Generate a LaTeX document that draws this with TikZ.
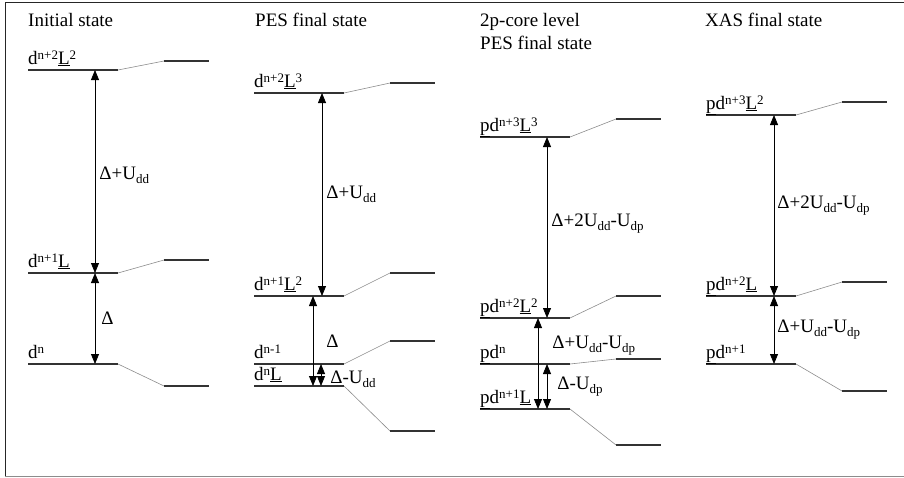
\documentclass[tikz,border=0pt]{standalone}
\usepackage{fontspec}
\setmainfont{Liberation Serif}
\usetikzlibrary{arrows.meta}
\definecolor{levelline}{HTML}{333333}
\definecolor{slopeline}{HTML}{8C8C8C}
\newcommand{\sps}[1]{\raisebox{4.5pt}{\fontsize{13}{13}\selectfont #1}}
\newcommand{\sbs}[1]{\raisebox{-4pt}{\fontsize{13}{13}\selectfont #1}}

\begin{document}
\begin{tikzpicture}[
            x=1pt, y=-1pt,
            font=\fontsize{19}{22}\selectfont,
            level/.style={draw=levelline, line width=1.1pt},
            slope/.style={draw=slopeline, line width=0.6pt},
            lvltext/.style={anchor=base west, inner sep=0pt, yshift=6pt},
            title/.style={anchor=base west, inner sep=0pt, align=left},
            gap/.style={anchor=west, inner sep=0pt, xshift=4pt},
            twoway/.style={{Triangle[length=10pt,width=8pt]}-{Triangle[length=10pt,width=8pt]}, line width=0.8pt, color=black}
        ]
        \useasboundingbox (0,0) rectangle (904,477);
        \draw [line width=1pt, color=black!85] (904,2) -- (5,2) -- (5,476);
        \draw [line width=1pt, color=black!45] (5,476) -- (904,476);

        % energy levels: name / left x / left y / right y
        \foreach \nm/\x/\yl/\yr in {i2/28/70/61, i1/28/273/260, i0/28/364/386,
                                    p3/254/93/83, p2/254/296/273, p1/254/364/341, p0/254/386/431,
                                    c3/480/137/119, c2/480/318/296, c1/480/364/359, c0/480/409/445,
                                    x2/706/115/102, x1/706/296/282, x0/706/364/391} {
            \coordinate (\nm) at (\x,\yl);
            \coordinate (\nm-r) at (\x+136,\yr);
            \draw [level] (\nm) -- ++(90,0) coordinate (\nm-k);
            \draw [slope] (\nm-k) -- (\nm-r);
            \draw [level] (\nm-r) -- ++(45,0);
        }

        % titles
        \node [title] (tinit) at (28,26) {Initial state};
        \node [title] (tpes) at (255,26) {PES final state};
        \node [title] (tcore) at (480,26) {2p-core level};
        \node [title] (tcore2) at (480,49) {PES final state};
        \node [title] (txas) at (705,26) {XAS final state};

        % initial state
        \node [lvltext] (li2) at (i2) {d\sps{n+2}\underline{L}\sps{2}};
        \node [lvltext] (li1) at (i1) {d\sps{n+1}\underline{L}};
        \node [lvltext] (li0) at (i0) {d\sps{n}};
        \draw [twoway] ([xshift=67pt]i2) -- node[gap, pos=0.52]{Δ+U\sbs{dd}} ([xshift=67pt]i1);
        \draw [twoway] ([xshift=67pt]i1) -- node[gap, xshift=2pt]{Δ} ([xshift=67pt]i0);

        % PES final state
        \node [lvltext] (lp3) at (p3) {d\sps{n+2}\underline{L}\sps{3}};
        \node [lvltext] (lp2) at (p2) {d\sps{n+1}\underline{L}\sps{2}};
        \node [lvltext] (lp1) at (p1) {d\sps{n-1}};
        \node [lvltext] (lp0) at (p0) {d\sps{n}\underline{L}};
        \draw [twoway] ([xshift=68pt]p3) -- node[gap]{Δ+U\sbs{dd}} ([xshift=68pt]p2);
        \draw [twoway] ([xshift=59pt]p2) -- node[gap, xshift=9pt]{Δ} ([xshift=59pt]p0);
        \draw [twoway] ([xshift=67pt]p1) -- node[gap, xshift=5pt, yshift=-4pt]{Δ-U\sbs{dd}} ([xshift=67pt]p0);

        % 2p-core level PES final state
        \node [lvltext] (lc3) at (c3) {\underline{p}d\sps{n+3}\underline{L}\sps{3}};
        \node [lvltext] (lc2) at (c2) {\underline{p}d\sps{n+2}\underline{L}\sps{2}};
        \node [lvltext] (lc1) at (c1) {\underline{p}d\sps{n}};
        \node [lvltext] (lc0) at (c0) {\underline{p}d\sps{n+1}\underline{L}};
        \draw [twoway] ([xshift=67pt]c3) -- node[gap, pos=0.48]{Δ+2U\sbs{dd}-U\sbs{dp}} ([xshift=67pt]c2);
        \draw [twoway] ([xshift=58pt]c2) -- node[gap, xshift=10pt, pos=0.3]{Δ+U\sbs{dd}-U\sbs{dp}} ([xshift=58pt]c0);
        \draw [twoway] ([xshift=67pt]c1) -- node[gap, xshift=6pt]{Δ-U\sbs{dp}} ([xshift=67pt]c0);

        % XAS final state
        \node [lvltext] (lx2) at (x2) {\underline{p}d\sps{n+3}\underline{L}\sps{2}};
        \node [lvltext] (lx1) at (x1) {\underline{p}d\sps{n+2}\underline{L}};
        \node [lvltext] (lx0) at (x0) {\underline{p}d\sps{n+1}};
        \draw [twoway] ([xshift=68pt]x2) -- node[gap, xshift=-1pt]{Δ+2U\sbs{dd}-U\sbs{dp}} ([xshift=68pt]x1);
        \draw [twoway] ([xshift=68pt]x1) -- node[gap, xshift=-1pt]{Δ+U\sbs{dd}-U\sbs{dp}} ([xshift=68pt]x0);
    \end{tikzpicture}
\end{document}
